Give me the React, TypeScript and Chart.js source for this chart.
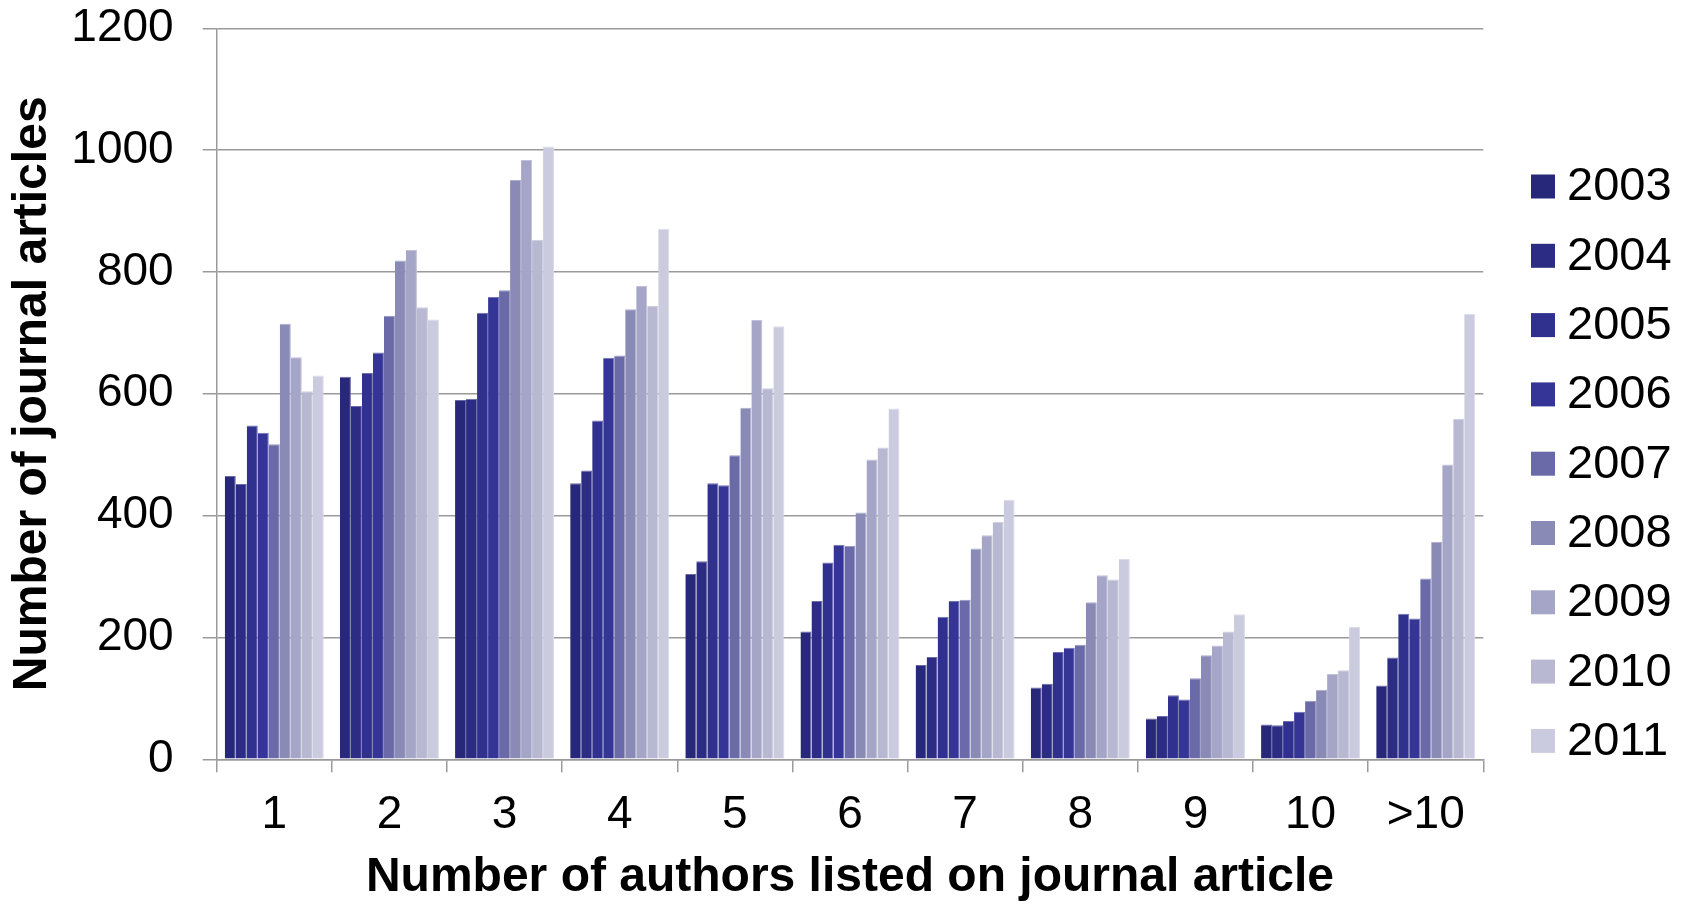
import React, { useEffect, useRef } from "react";
import { Chart, registerables } from "chart.js";

Chart.register(...registerables);

const categories = ["1", "2", "3", "4", "5", "6", "7", "8", "9", "10", ">10"];
const years = ["2003", "2004", "2005", "2006", "2007", "2008", "2009", "2010", "2011"];

const v2003 = [465, 628, 590, 453, 304, 210, 155, 118, 67, 57, 121];
const v2004 = [452, 580, 592, 474, 325, 260, 168, 124, 71, 56, 167];
const v2005 = [548, 634, 733, 556, 453, 323, 234, 176, 105, 63, 239];
const v2006 = [536, 668, 759, 659, 450, 352, 260, 183, 98, 78, 231];
const v2007 = [517, 728, 770, 663, 499, 350, 262, 188, 133, 96, 297];
const v2008 = [715, 819, 951, 739, 577, 405, 346, 258, 171, 114, 357];
const v2009 = [660, 836, 984, 777, 721, 492, 368, 302, 187, 140, 484];
const v2010 = [604, 742, 853, 744, 609, 512, 390, 295, 210, 146, 559];
const v2011 = [630, 722, 1006, 871, 711, 576, 426, 329, 238, 217, 731];

const seriesValues = [v2003, v2004, v2005, v2006, v2007, v2008, v2009, v2010, v2011];
const seriesColors = [
  "#28287a",
  "#2c2c84",
  "#30308e",
  "#353597",
  "#6a6aa8",
  "#8a8ab7",
  "#a5a5c7",
  "#b8b8d3",
  "#cbcbdf",
];

const yTicks = [0, 200, 400, 600, 800, 1000, 1200];
const yTitle = "Number of journal articles";
const xTitle = "Number of authors listed on journal article";

const FONT = "'Liberation Sans', Arial, Helvetica, sans-serif";

function lighten(hex: string, t: number) {
  const n = parseInt(hex.slice(1), 16);
  const r = (n >> 16) & 255, g = (n >> 8) & 255, b = n & 255;
  const m = (c: number) => Math.round(c + (255 - c) * t);
  return `rgb(${m(r)},${m(g)},${m(b)})`;
}

const legendPlugin = {
  id: "customLegend",
  afterDraw(chart: any) {
    const ctx = chart.ctx;
    ctx.save();
    ctx.font = `47px ${FONT}`;
    ctx.textBaseline = "middle";
    ctx.textAlign = "left";
    chart.data.datasets.forEach((ds: any, i: number) => {
      const cy = 186.5 + i * 69.3;
      ctx.fillStyle = ds.backgroundColor;
      ctx.fillRect(1531, cy - 12, 24, 24);
      ctx.fillStyle = "#000";
      ctx.fillText(ds.label, 1567, cy + 1);
    });
    ctx.restore();
  },
};

export default function App() {
  const ref = useRef<HTMLCanvasElement | null>(null);

  useEffect(() => {
    document.body.style.margin = "0";
    const canvas = ref.current;
    if (!canvas) return;
    const chart = new Chart(canvas, {
      type: "bar",
      data: {
        labels: categories,
        datasets: years.map((y, i) => ({
          label: y,
          data: seriesValues[i],
          backgroundColor: seriesColors[i],
          borderColor: lighten(seriesColors[i], 0.3),
          borderWidth: { top: 1, left: 0, right: 1, bottom: 0 },
          categoryPercentage: 0.86,
          barPercentage: 1,
        })),
      },
      options: {
        responsive: false,
        animation: false,
        devicePixelRatio: 1,
        layout: { padding: { left: 0, top: 0, right: 206.7, bottom: 0 } },
        plugins: {
          legend: { display: false },
          tooltip: { enabled: false },
        },
        scales: {
          x: {
            offset: true,
            grid: {
              offset: true,
              drawOnChartArea: false,
              drawTicks: true,
              tickLength: 13,
              color: "#9a9a9a",
              lineWidth: 1.5,
            },
            border: { display: true, color: "#9a9a9a", width: 1.5 },
            ticks: {
              color: "#000",
              font: { family: FONT, size: 46 },
              padding: 15,
              maxRotation: 0,
              autoSkip: false,
            },
            title: {
              display: true,
              text: xTitle,
              color: "#000",
              font: { family: FONT, size: 48, weight: "bold", lineHeight: 1 },
              padding: { top: 0, bottom: 3 },
            },
            afterFit(scale: any) {
              scale.height = 905 - 759.3;
            },
          },
          y: {
            min: 0,
            max: 1200,
            afterBuildTicks(scale: any) {
              scale.ticks = yTicks.map((v) => ({ value: v }));
            },
            grid: {
              drawTicks: true,
              tickLength: 14,
              color: "#9a9a9a",
              lineWidth: 1.5,
            },
            border: { display: true, color: "#9a9a9a", width: 1.5 },
            ticks: {
              color: "#000",
              font: { family: FONT, size: 46 },
              padding: 29,
              callback: (v: any) => String(v),
            },
            title: {
              display: true,
              text: yTitle,
              color: "#000",
              font: { family: FONT, size: 48, weight: "bold", lineHeight: 1 },
              padding: { top: 8.5, bottom: 0 },
            },
            afterFit(scale: any) {
              scale.width = 216.7;
              scale.paddingTop = 28.3;
              scale.paddingBottom = 0;
            },
          },
        },
      },
      plugins: [legendPlugin],
    });
    return () => chart.destroy();
  }, []);

  return (
    <div style={{ position: "absolute", left: 0, top: 0, width: 1690, height: 905, background: "#fff" }}>
      <canvas ref={ref} width={1690} height={905} style={{ width: 1690, height: 905, display: "block" }} />
    </div>
  );
}
